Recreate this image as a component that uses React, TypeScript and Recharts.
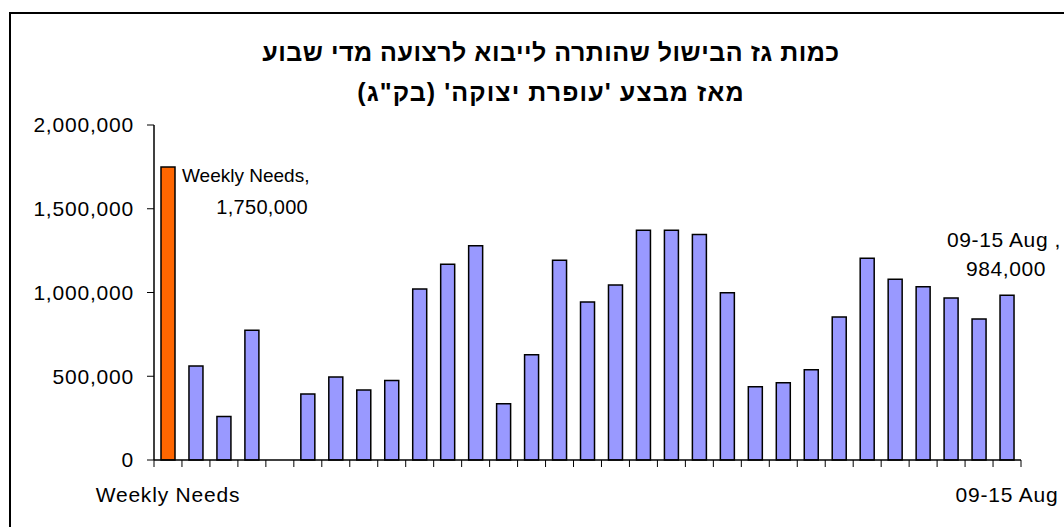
import React from 'react';
import { BarChart, Bar, XAxis, YAxis, Cell, LabelList } from 'recharts';

const titleLines = ['כמות גז הבישול שהותרה לייבוא לרצועה מדי שבוע', 'מאז מבצע \'עופרת יצוקה\' (בק"ג)'];

// one entry per week, first is the weekly need, the gap week has no value
const weekLabels = [
  'Weekly Needs', '', '', '', '', '', '', '', '', '', '',
  '', '', '', '', '', '', '', '', '', '', '',
  '', '', '', '', '', '', '', '', '09-15 Aug',
];

const amounts = [
  1750000, 561000, 259000, 774000, null, 394000, 496000, 418000, 474000, 1021000, 1168000,
  1279000, 336000, 629000, 1192000, 943000, 1045000, 1371000, 1371000, 1347000, 999000, 438000,
  461000, 539000, 854000, 1204000, 1079000, 1035000, 967000, 842000, 984000,
];

const yTicks = [0, 500000, 1000000, 1500000, 2000000];

const FONT = '"Liberation Sans", Arial, sans-serif';
const FS = 21;
const LS = 0.8;
const CHART_W = 1064;
const CHART_H = 527;
const MARGIN = { top: 125, right: 43, bottom: 7, left: 0 };
const Y_WIDTH = 154;
const BAND = (CHART_W - MARGIN.right - Y_WIDTH) / weekLabels.length;

const firstWeek = weekLabels[0];
const lastWeek = weekLabels[weekLabels.length - 1];

const data = weekLabels.map((week, i) => ({ week, amount: amounts[i] }));

const fmt = (v: number) => v.toLocaleString('en-US');

const XTick = (props: any) => {
  const { x, y, index } = props;
  const label = weekLabels[index];
  const last = index === weekLabels.length - 1;
  return (
    <g>
      <line x1={x - BAND / 2} y1={y} x2={x - BAND / 2} y2={y + 7} stroke="#000" />
      {last && <line x1={x + BAND / 2} y1={y} x2={x + BAND / 2} y2={y + 7} stroke="#000" />}
      {label && (
        <text x={x} y={y + 42} textAnchor="middle" fontSize={FS} letterSpacing={LS} fontFamily={FONT} fill="#000">
          {label}
        </text>
      )}
    </g>
  );
};

// only the first and the last bar carry a "week, amount" label
const PointLabel = (props: any) => {
  const { x, y, width, value } = props;
  const amount = amounts[weekLabels.indexOf(value)];
  if (value === firstWeek) {
    return (
      <g fontFamily={FONT} fill="#000">
        <text x={x + width + 7} y={y + 15} fontSize={19} textAnchor="start">{value + ','}</text>
        <text x={x + width + 133} y={y + 47} fontSize={20} letterSpacing={0.3} textAnchor="end">{fmt(amount)}</text>
      </g>
    );
  }
  if (value === lastWeek) {
    const cx = x + width / 2 - 3;
    return (
      <g fontFamily={FONT} fill="#000" fontSize={FS} letterSpacing={0.6}>
        <text x={cx} y={y - 48} textAnchor="middle">{value + ' ,'}</text>
        <text x={cx + 2} y={y - 19} textAnchor="middle">{fmt(amount)}</text>
      </g>
    );
  }
  return null;
};

export default function App() {
  return (
    <div style={{ position: 'absolute', left: 0, top: 0, width: CHART_W, height: CHART_H, overflow: 'hidden', background: '#fff' }}>
      <div style={{ position: 'absolute', left: 9, top: 12, width: 1080, height: 540, border: '2px solid #000', boxSizing: 'border-box' }} />
      {titleLines.map((line, i) => (
        <div
          key={i}
          style={{
            position: 'absolute', left: 0, width: 1102, top: 36 + i * 40, textAlign: 'center',
            direction: 'rtl', fontFamily: FONT, fontWeight: 'bold', fontSize: 25, letterSpacing: 0.5 + i * 0.6,
            lineHeight: '32px', color: '#000',
          }}
        >
          {line}
        </div>
      ))}
      <div style={{ position: 'absolute', left: 0, top: 0 }}>
        <BarChart width={CHART_W} height={CHART_H} data={data} margin={MARGIN} barSize={14}>
          <XAxis
            dataKey="week"
            interval={0}
            height={60}
            tickSize={0}
            tickMargin={0}
            tickLine={false}
            axisLine={{ stroke: '#000', strokeWidth: 1.5 }}
            tick={<XTick />}
          />
          <YAxis
            width={Y_WIDTH}
            domain={[0, 2000000]}
            ticks={yTicks}
            tickSize={7}
            tickMargin={13}
            tickFormatter={fmt}
            axisLine={{ stroke: '#000', strokeWidth: 1.5 }}
            tickLine={{ stroke: '#000' }}
            tick={{ fontSize: FS, letterSpacing: LS, fontFamily: FONT, fill: '#000' }}
          />
          <Bar dataKey="amount" stroke="#000" strokeWidth={1.5} isAnimationActive={false}>
            {data.map((d, i) => (
              <Cell key={i} fill={i === 0 ? '#FF6600' : '#9999FF'} />
            ))}
            <LabelList dataKey="week" content={<PointLabel />} />
          </Bar>
        </BarChart>
      </div>
    </div>
  );
}
